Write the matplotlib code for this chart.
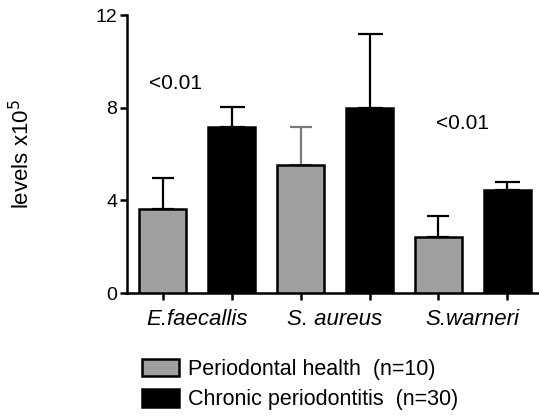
import matplotlib
matplotlib.use("Agg")
import matplotlib.pyplot as plt
import numpy as np

plt.rcParams['font.family'] = ['Liberation Sans', 'DejaVu Sans']

species = ["E.faecallis", "S. aureus", "S.warneri"]
health_mean = [3.62, 5.52, 2.42]
health_err = [1.34, 1.64, 0.90]
chronic_mean = [7.16, 7.97, 4.44]
chronic_err = [0.86, 3.23, 0.34]
group_labels = ["Periodontal health  (n=10)", "Chronic periodontitis  (n=30)"]
pvalue_text = ["<0.01", "<0.01"]
yticks = [0, 4, 8, 12]

fig = plt.figure(figsize=(5.39, 4.17), dpi=100)
ax = fig.add_axes([0.2356, 0.297, 0.7644, 0.667])

n = len(species)
pos_h = np.arange(n) * 2
pos_c = pos_h + 1
w = 0.68
grey = "#a0a0a0"

bh = ax.bar(pos_h, health_mean, width=w, color=grey, edgecolor="black", linewidth=1.8, zorder=3,
            label=group_labels[0])
bc = ax.bar(pos_c, chronic_mean, width=w, color="black", edgecolor="black", linewidth=1.8, zorder=3,
            label=group_labels[1])

err_cols_h = ["black", "#7a7a7a", "black"]
for x, m, e, c in zip(pos_h, health_mean, health_err, err_cols_h):
    ax.errorbar([x], [m], yerr=[[0], [e]], fmt="none", ecolor=c, elinewidth=1.6,
                capsize=8, capthick=1.6, zorder=2)
for x, m, e in zip(pos_c, chronic_mean, chronic_err):
    ax.errorbar([x], [m], yerr=[[0], [e]], fmt="none", ecolor="black", elinewidth=1.6,
                capsize=9, capthick=1.6, zorder=2)

ax.set_xlim(-0.52, 5.46)
ax.set_ylim(0, 12)
ax.set_yticks(yticks)
ax.set_yticklabels([str(t) for t in yticks], fontsize=14)
ax.set_xticks(np.concatenate([pos_h, pos_c]))
ax.set_xticklabels([])
ax.tick_params(axis='both', direction='out', length=5, width=1.8)
ax.tick_params(axis='y', pad=2)
for s in ["top", "right"]:
    ax.spines[s].set_visible(False)
for s in ["left", "bottom"]:
    ax.spines[s].set_linewidth(1.8)

for i, name in enumerate(species):
    ax.text((pos_h[i] + pos_c[i]) / 2, -0.7, name, ha="center", va="top",
            fontsize=16, style="italic")

ax.text(0.19, 9.05, pvalue_text[0], ha="center", va="center", fontsize=15)
ax.text(4.35, 7.3, pvalue_text[1], ha="center", va="center", fontsize=15)

ax.set_ylabel("levels x10$^5$", fontsize=16)
ax.yaxis.set_label_coords(-0.225, 0.5)

fig.legend(handles=[bh, bc], labels=group_labels, loc="upper left",
           bbox_to_anchor=(0.263, 0.14), bbox_transform=fig.transFigure,
           frameon=False, fontsize=15.5, handlelength=1.75, handleheight=0.85,
           handletextpad=0.4, labelspacing=0.45, borderpad=0, borderaxespad=0)

fig.savefig("out.png", dpi=100)
